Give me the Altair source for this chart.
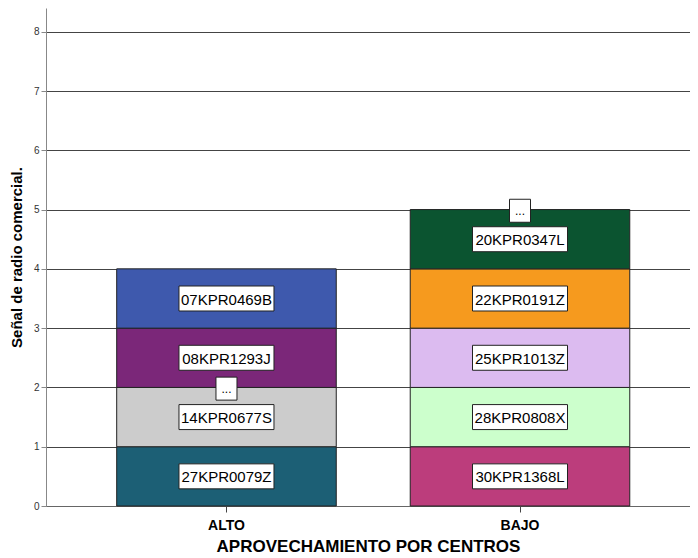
import altair as alt
import pandas as pd

categories = ["ALTO", "ALTO", "ALTO", "ALTO", "BAJO", "BAJO", "BAJO", "BAJO", "BAJO"]
ids = ["27KPR0079Z", "14KPR0677S", "08KPR1293J", "07KPR0469B",
       "30KPR1368L", "28KPR0808X", "25KPR1013Z", "22KPR0191Z", "20KPR0347L"]
values = [1, 1, 1, 1, 1, 1, 1, 1, 1]
stack_order = [0, 1, 2, 3, 0, 1, 2, 3, 4]
colors = ["#1c5f75", "#cccccc", "#7b2779", "#3e59ad",
          "#bc3d7c", "#ccffcc", "#dcbbf0", "#f69a1e", "#0b5430"]

# truncated-label markers ("...")
more_cats = ["ALTO", "BAJO"]
more_vals = [1.98, 4.98]

y_ticks = [0, 1, 2, 3, 4, 5, 6, 7, 8]

df = pd.DataFrame({"cat": categories, "id": ids, "val": values, "ord": stack_order})
more_df = pd.DataFrame({"cat": more_cats, "y": more_vals, "t": ["...", "..."]})

FONT = "Liberation Sans"

x_enc = alt.X("cat:N", title="APROVECHAMIENTO POR CENTROS",
              scale=alt.Scale(paddingInner=0.252, paddingOuter=0.223, align=0.54),
              axis=alt.Axis(labelAngle=0, grid=False))
y_scale = alt.Scale(domain=[0, 8.4], nice=False)

bars = alt.Chart(df).mark_bar(stroke="#222222", strokeWidth=1, opacity=1).encode(
    x=x_enc,
    y=alt.Y("sum(val):Q", title="Señal de radio comercial.", scale=y_scale,
            axis=alt.Axis(values=y_ticks, format="d")),
    color=alt.Color("id:N", scale=alt.Scale(domain=ids, range=colors), legend=None),
    order=alt.Order("ord:Q"),
)

base_lab = alt.Chart(df).transform_stack(
    stack="val", groupby=["cat"], as_=["y0", "y1"], sort=[alt.SortField("ord")]
).transform_calculate(mid="(datum.y0 + datum.y1) / 2")

boxes = base_lab.mark_point(
    shape="M-1,-0.263L1,-0.263L1,0.263L-1,0.263Z", size=9025,
    filled=True, fill="white", stroke="#222222", strokeWidth=1, opacity=1
).encode(x=alt.X("cat:N"), y=alt.Y("mid:Q", scale=y_scale))

texts = base_lab.mark_text(font=FONT, fontSize=15, color="black", baseline="middle", dy=1).encode(
    x=alt.X("cat:N"), y=alt.Y("mid:Q", scale=y_scale), text="id:N"
)

more_boxes = alt.Chart(more_df).mark_point(
    shape="M-1,-1.095L1,-1.095L1,1.095L-1,1.095Z", size=441,
    filled=True, fill="white", stroke="#222222", strokeWidth=1, opacity=1
).encode(x=alt.X("cat:N"), y=alt.Y("y:Q", scale=y_scale))

more_text = alt.Chart(more_df).mark_text(font=FONT, fontSize=12, color="black", baseline="middle").encode(
    x=alt.X("cat:N"), y=alt.Y("y:Q", scale=y_scale), text="t:N"
)

chart = alt.layer(bars, boxes, texts, more_boxes, more_text).properties(
    width=644, height=498,
    autosize=alt.AutoSizeParams(type="none"),
    padding={"left": 38, "top": 0, "right": 0, "bottom": 52},
).configure_view(stroke=None).configure_axisY(
    domainColor="#888888", tickColor="#888888", tickSize=5,
    labelFont=FONT, labelFontSize=10, labelColor="#333333", labelPadding=2,
    titleFont=FONT, titleFontSize=15, titleFontWeight="bold", titleColor="black",
    titlePadding=9, gridColor="#444444", gridWidth=1, gridOpacity=1,
).configure_axisX(
    domainColor="#666666", tickColor="#444444", tickSize=6,
    labelFont=FONT, labelFontSize=14, labelFontWeight="bold", labelColor="black", labelPadding=6,
    titleFont=FONT, titleFontSize=17, titleFontWeight="bold", titleColor="black", titlePadding=6,
)

chart.save("out.html", embed_options={"renderer": "svg", "actions": False})
